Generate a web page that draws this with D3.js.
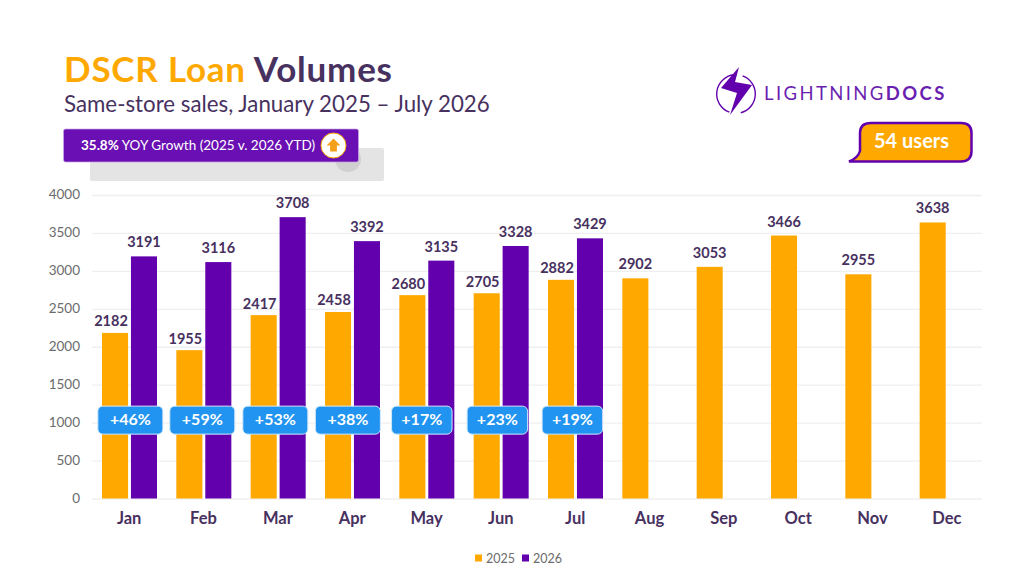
<!DOCTYPE html>
<html>
<head>
<meta charset="utf-8">
<script src="https://cdn.jsdelivr.net/npm/d3@7"></script>
<style>
  html, body { margin: 0; padding: 0; background: #fff; }
  svg { display: block; font-family: Lato, sans-serif; }
  text { fill: #47315f; }
  .tick-y text { fill: #6b6b6b; font-size: 13.5px; }
</style>
</head>
<body>
<script>
const months = ['Jan', 'Feb', 'Mar', 'Apr', 'May', 'Jun', 'Jul', 'Aug', 'Sep', 'Oct', 'Nov', 'Dec'];
const values2025 = [2182, 1955, 2417, 2458, 2680, 2705, 2882, 2902, 3053, 3466, 2955, 3638];
const values2026 = [3191, 3116, 3708, 3392, 3135, 3328, 3429];
const growth = ['+46%', '+59%', '+53%', '+38%', '+17%', '+23%', '+19%'];
const yTicks = [0, 500, 1000, 1500, 2000, 2500, 3000, 3500, 4000];
const seriesNames = ['2025', '2026'];

const width = 1024, height = 576;
const orange = '#ffa800', purple = '#6200ae', dark = '#47315f', blue = '#2094f0';

const svg = d3.select('body').append('svg')
  .attr('width', width)
  .attr('height', height);

// title block
const title = svg.append('text').attr('x', 64).attr('y', 81.5)
  .attr('font-size', 35).attr('font-weight', 700).attr('letter-spacing', 0.78);
title.append('tspan').text('DSCR Loan').style('fill', orange);
title.append('tspan').text(' Volumes').style('fill', dark);

svg.append('text').attr('x', 64).attr('y', 112)
  .attr('font-size', 22.3)
  .text('Same-store sales, January 2025 – July 2026');

// grey shape behind the growth banner
svg.append('rect').attr('x', 90).attr('y', 148).attr('width', 294).attr('height', 33)
  .attr('rx', 2).attr('fill', '#e4e4e4');
svg.append('circle').attr('cx', 348).attr('cy', 159).attr('r', 13).attr('fill', '#d0d0d0');

svg.append('rect').attr('x', 63.5).attr('y', 129).attr('width', 295).attr('height', 33)
  .attr('rx', 2).attr('fill', '#6a0fb3').attr('stroke', '#c9a6e6').attr('stroke-width', 0.7);
const banner = svg.append('text').attr('x', 81).attr('y', 150).attr('font-size', 13.5);
banner.append('tspan').text('35.8%').attr('font-weight', 700).style('fill', '#fff');
banner.append('tspan').text(' YOY Growth (2025 v. 2026 YTD)').style('fill', '#fff');
svg.append('circle').attr('cx', 333.5).attr('cy', 145.5).attr('r', 12.5)
  .attr('fill', '#fff').attr('stroke', orange).attr('stroke-width', 1);
svg.append('path').attr('d', 'M333.5 138.5l7 7h-3.6v6h-6.8v-6h-3.6z').attr('fill', '#f5a01a');

// logo
const logo = svg.append('g').attr('transform', 'translate(736,94)');
const ring = d3.arc().innerRadius(18.6).outerRadius(20);
logo.append('path').attr('d', ring({ startAngle: 0.35, endAngle: Math.PI - 0.25 })).attr('fill', purple);
logo.append('path').attr('d', ring({ startAngle: Math.PI + 0.35, endAngle: 2 * Math.PI - 0.1 })).attr('fill', purple);
logo.append('path')
  .attr('d', 'M3 -27L-15 -6L1 -1L-6 21L16 -9L-1 -12Z')
  .attr('fill', purple);
const logoText = svg.append('text').attr('x', 764).attr('y', 100)
  .attr('font-size', 18.5).attr('letter-spacing', 2.4);
logoText.append('tspan').text('LIGHTNING').style('fill', '#6a1fb0');
logoText.append('tspan').text('DOCS').attr('font-weight', 700).style('fill', '#6a1fb0');

// users bubble
svg.append('path')
  .attr('d', 'M871 123H961Q971.5 123 971.5 133V151Q971.5 161.5 961 161.5H849Q858 158 860 151V133Q860 123 871 123Z')
  .attr('fill', orange).attr('stroke', purple).attr('stroke-width', 2.5);
svg.append('text').attr('x', 874).attr('y', 147.5)
  .attr('font-size', 20).attr('font-weight', 700).style('fill', '#fff')
  .text('54 users');

// scales
const x = d3.scaleBand().domain(months).range([92, 984]);
const series = d3.scaleBand().domain(seriesNames).range([10, 65]).paddingInner(0.1);
const y = d3.scaleLinear().domain([0, 4000]).range([498.5, 195]);

// y axis with gridlines
const yAxis = d3.axisLeft(y).tickValues(yTicks).tickFormat(d3.format('d')).tickSize(0).tickPadding(12);
const yG = svg.append('g')
  .attr('class', 'tick-y')
  .attr('transform', 'translate(92,0)')
  .call(yAxis);
yG.select('.domain').remove();
yG.selectAll('.tick text').attr('font-family', 'Lato, sans-serif').attr('dy', '0.26em');
yG.selectAll('.tick').append('line')
  .attr('x1', 0).attr('x2', 890)
  .attr('stroke', '#efefef').attr('stroke-width', 1.3);

// x axis
const xAxis = d3.axisBottom(x).tickSize(0).tickPadding(14);
const xG = svg.append('g')
  .attr('transform', 'translate(0,498.5)')
  .call(xAxis);
xG.select('.domain').remove();
xG.selectAll('.tick text')
  .attr('font-family', 'Lato, sans-serif')
  .attr('font-size', 16.5).attr('font-weight', 700)
  .style('fill', dark);

// bars
const rows = [
  { name: '2025', values: values2025, color: orange },
  { name: '2026', values: values2026, color: purple }
];
rows.forEach((row) => {
  const g = svg.append('g');
  const barData = row.values.map((v, i) => ({ month: months[i], value: v, paired: i < values2026.length }));
  g.selectAll('rect')
    .data(barData)
    .enter()
    .append('rect')
    .attr('x', (d) => x(d.month) + series(row.name))
    .attr('y', (d) => y(d.value))
    .attr('width', series.bandwidth())
    .attr('height', (d) => y(0) - y(d.value))
    .attr('fill', row.color);
  // labels over a 2025 bar that has a neighbour sit lower and further left
  const shifted = (d) => row.name === '2025' && d.paired;
  g.selectAll('text')
    .data(barData)
    .enter()
    .append('text')
    .attr('x', (d) => x(d.month) + series(row.name) + series.bandwidth() / 2 - (shifted(d) ? 4 : 0))
    .attr('y', (d) => y(d.value) - (shifted(d) ? 6.5 : 9))
    .attr('text-anchor', 'middle')
    .attr('font-size', 14.5)
    .attr('font-weight', 700)
    .text((d) => d.value);
});

// growth pills, placed by hand in the original so they drift off the band centres
const pillShift = [1.2, -1.2, -2.5, -4.3, -4.7, -3.5, -2.8];
const pillWidth = (i) => (i < 4 ? 65 : 60.5);
const pills = svg.append('g').selectAll('g')
  .data(growth)
  .enter()
  .append('g')
  .attr('transform', (d, i) => 'translate(' + (x(months[i]) + x.bandwidth() / 2 + pillShift[i]) + ',' + y(1000) + ')');
pills.append('rect')
  .attr('x', (d, i) => -pillWidth(i) / 2)
  .attr('y', -16.5)
  .attr('width', (d, i) => pillWidth(i))
  .attr('height', 28)
  .attr('rx', 5)
  .attr('fill', blue)
  .attr('stroke', '#cfe8fb')
  .attr('stroke-width', 1);
pills.append('text')
  .attr('text-anchor', 'middle')
  .attr('y', 2.5)
  .attr('font-size', 16)
  .attr('font-weight', 700)
  .style('fill', '#fff')
  .text((d) => d);

// legend
const legend = svg.append('g').selectAll('g')
  .data(rows)
  .enter()
  .append('g')
  .attr('transform', (d, i) => 'translate(' + (475 + i * 47) + ',558)');
legend.append('rect').attr('y', -3.5).attr('width', 7).attr('height', 7).attr('fill', (d) => d.color);
legend.append('text').attr('x', 11).attr('y', 4.5).attr('font-size', 12.5)
  .style('fill', '#6b6b6b').text((d) => d.name);
</script>
</body>
</html>
